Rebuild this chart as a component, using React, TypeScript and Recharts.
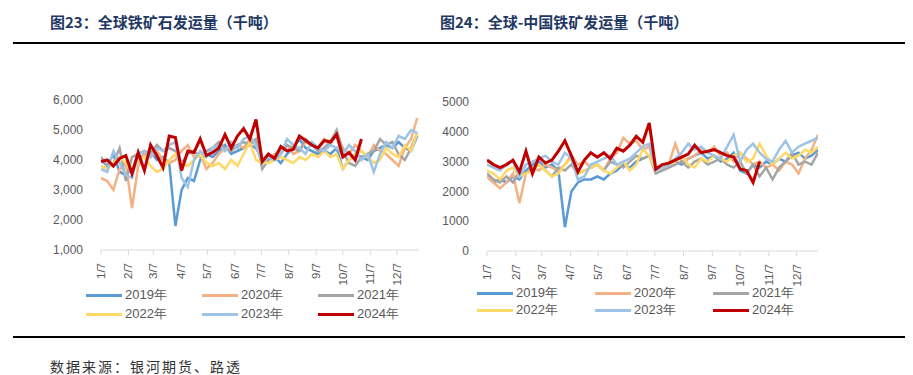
import React from "react";
import { LineChart, Line, XAxis, YAxis } from "recharts";

// weekly observation dates, as day of year (1/7, 1/14, ...)
const weekDays = Array.from({ length: 52 }, (_, i) => 7 + i * 7);

const monthTicks = [7, 38, 66, 97, 127, 158, 188, 219, 250, 280, 311, 341];
const monthLabels = ["1/7", "2/7", "3/7", "4/7", "5/7", "6/7", "7/7", "8/7", "9/7", "10/7", "11/7", "12/7"];

const years = ["2019", "2020", "2021", "2022", "2023", "2024"];
const yearLabels = ["2019年", "2020年", "2021年", "2022年", "2023年", "2024年"];

// 图23 全球铁矿石发运量（千吨）
const global2019 = [4000, 3800, 4200, 3600, 3500, 3700, 4000, 4200, 4300, 4000, 4100, 3900, 1800, 3000, 3400, 3300, 4000, 4200, 4100, 4300, 4500, 4200, 4300, 4400, 4500, 4400, 4000, 4000, 4100, 3900, 4200, 4400, 4700, 4400, 4300, 4200, 4300, 4200, 4400, 3700, 4000, 4200, 4100, 4000, 4300, 4400, 4500, 4400, 4600, 4400, 4300, 4800];
const global2020 = [3400, 3300, 3000, 3700, 3900, 2400, 3800, 4200, 4100, 4300, 4000, 3900, 4000, 4300, 4500, 4100, 4200, 3700, 3900, 4200, 4400, 4300, 4500, 4400, 4700, 4500, 3900, 4000, 4200, 4300, 4500, 4200, 4300, 4600, 4500, 4400, 4700, 4500, 4900, 4400, 4200, 4500, 4300, 4100, 4500, 4300, 4200, 4000, 3800, 4400, 4700, 5400];
const global2021 = [4100, 3800, 3900, 4400, 3300, 4100, 4200, 4300, 4200, 4500, 4300, 4400, 4300, 3900, 4200, 4300, 4100, 4300, 4400, 4600, 4400, 4300, 4500, 4600, 4500, 4700, 3700, 4000, 4100, 4200, 4500, 4400, 4300, 4700, 4500, 4300, 4400, 4600, 5000, 4300, 3900, 3800, 4100, 4200, 4300, 4700, 4500, 4600, 4200, 4000, 4400, 4900];
const global2022 = [3800, 3700, 3900, 4100, 3900, 3700, 4000, 4100, 3800, 3600, 3700, 4000, 4200, 3900, 3800, 4000, 4200, 3900, 3800, 3900, 3700, 4000, 3800, 4200, 4600, 4000, 3900, 3900, 4000, 4100, 4000, 3900, 4100, 4000, 4200, 4100, 4300, 4100, 4200, 3700, 4000, 4200, 4300, 4100, 3900, 4000, 4400, 4200, 4100, 4500, 4300, 4900];
const global2023 = [3700, 3600, 4300, 3900, 3500, 3400, 4200, 4300, 4100, 4400, 4300, 4500, 4600, 3400, 3100, 4000, 4300, 4100, 4400, 4500, 4300, 4600, 4400, 4700, 4800, 4500, 3900, 4100, 4000, 4200, 4700, 4500, 4400, 4200, 4600, 4400, 4300, 4500, 4400, 4200, 4500, 4300, 4000, 4200, 3600, 4200, 4600, 4400, 4800, 4700, 5000, 4900];
const global2024 = [3950, 4000, 3800, 4050, 4150, 3550, 4250, 3650, 4500, 4150, 3750, 4800, 4750, 3650, 4300, 4250, 4700, 4150, 4250, 4400, 4850, 4400, 4800, 5050, 4700, 5350, 3950, 4200, 4050, 4450, 4300, 4350, 4800, 4650, 4500, 4400, 4650, 4600, 4850, 4100, 4250, 4000, 4700];

// 图24 全球-中国铁矿发运量（千吨）
const china2019 = [2500, 2300, 2400, 2300, 2500, 2400, 2700, 2900, 3000, 2800, 2900, 2700, 800, 2000, 2300, 2400, 2400, 2500, 2400, 2600, 2700, 2900, 2800, 3000, 3100, 3200, 2700, 2800, 2900, 3000, 2900, 3100, 3200, 3300, 3100, 3200, 3000, 3100, 3300, 2700, 2600, 2900, 2800, 3000, 2900, 3100, 3000, 3200, 3300, 3100, 3200, 3400];
const china2020 = [2500, 2300, 2100, 2300, 2600, 1600, 2600, 2800, 2700, 2900, 2800, 2700, 2900, 3200, 2900, 3000, 2800, 2900, 2700, 3100, 3300, 3800, 3600, 3700, 3400, 3500, 2700, 2800, 2900, 3600, 3000, 3100, 3200, 3400, 3300, 3500, 3200, 3300, 3000, 3300, 3100, 2900, 3000, 2800, 2900, 2700, 3000, 2900, 2600, 3100, 3400, 3900];
const china2021 = [2600, 2400, 2300, 2500, 2300, 2700, 2600, 2800, 2900, 2700, 2500, 2800, 2700, 2900, 2600, 2700, 2800, 2900, 2700, 3000, 2900, 2800, 3000, 3200, 3100, 3200, 2600, 2700, 2800, 2900, 3000, 2800, 3000, 3100, 2900, 3000, 3100, 2900, 2800, 3000, 2600, 2900, 2500, 2800, 2400, 2800, 3000, 3300, 2900, 3000, 2900, 3300];
const china2022 = [2700, 2600, 2400, 2700, 2800, 2500, 2600, 2700, 2900, 2700, 2500, 2600, 2900, 3100, 2600, 2700, 2800, 2900, 2700, 2600, 2800, 3000, 2700, 2900, 3400, 3200, 2700, 2800, 2900, 3000, 3200, 2900, 2800, 3100, 3000, 3200, 3100, 3000, 3200, 3300, 3000, 3100, 3600, 3200, 2900, 3100, 3300, 3100, 3200, 3400, 3300, 3500];
const china2023 = [2900, 2800, 2700, 2900, 3000, 2500, 2900, 3000, 3100, 3200, 3000, 2900, 3300, 3100, 2400, 2500, 2900, 3000, 3100, 3200, 2900, 3000, 3100, 3300, 3500, 3600, 2700, 2800, 2900, 3100, 3300, 3600, 3400, 3500, 3300, 3200, 3100, 3500, 3900, 3000, 3400, 3600, 3300, 3100, 3000, 3400, 3700, 3300, 3500, 3600, 3700, 3800];
const china2024 = [3050, 2900, 2800, 2900, 3050, 2650, 3350, 2600, 3150, 2950, 3050, 3350, 3700, 3200, 2650, 3050, 3300, 3150, 3300, 3100, 3450, 3350, 3550, 3850, 3650, 4300, 2750, 2900, 2950, 3050, 3150, 3250, 3550, 3300, 3350, 3400, 3300, 3200, 3150, 2750, 2700, 2300, 3000];

const colors = ["#5B9BD5", "#F4B183", "#A5A5A5", "#FFD966", "#9DC3E6", "#C00000"];

const buildRows = (series: number[][]) =>
  weekDays.map((day, i) => {
    const row: Record<string, number | null> = { day };
    years.forEach((y, k) => {
      row["y" + y] = series[k][i] ?? null;
    });
    return row;
  });

const globalRows = buildRows([global2019, global2020, global2021, global2022, global2023, global2024]);
const chinaRows = buildRows([china2019, china2020, china2021, china2022, china2023, china2024]);

const axisFont = "'Liberation Sans', Arial, sans-serif";
const textGrey = "#595959";

const MonthTick = (props: any) => {
  const { x, y, payload } = props;
  const label = monthLabels[monthTicks.indexOf(payload.value)] ?? "";
  const ty = y + 6;
  return (
    <text
      x={x}
      y={ty}
      transform={`rotate(-90, ${x}, ${ty})`}
      textAnchor="end"
      dominantBaseline="central"
      fontSize={11.5}
      fontFamily={axisFont}
      fill={textGrey}
    >
      {label}
    </text>
  );
};

function Panel({
  rows,
  domainY,
  ticksY,
  fmt,
  domainX,
  yWidth,
  margin,
  width,
  height,
}: {
  rows: any[];
  domainY: [number, number];
  ticksY: number[];
  fmt: (v: number) => string;
  domainX: [number, number];
  yWidth: number;
  margin: { top: number; right: number; left: number; bottom: number };
  width: number;
  height: number;
}) {
  return (
    <LineChart width={width} height={height} data={rows} margin={margin}>
      <XAxis
        dataKey="day"
        type="number"
        domain={domainX}
        ticks={monthTicks}
        interval={0}
        tick={<MonthTick />}
        height={40}
        stroke="#D9D9D9"
        tickSize={5}
        allowDataOverflow
      />
      <YAxis
        domain={domainY}
        ticks={ticksY}
        tickFormatter={fmt}
        axisLine={false}
        tickLine={false}
        tickMargin={12}
        width={yWidth}
        tick={{ fontSize: 12, fill: textGrey, fontFamily: axisFont }}
      />
      {years.map((y, k) => (
        <Line
          key={y}
          dataKey={"y" + y}
          type="linear"
          stroke={colors[k]}
          strokeWidth={k === 5 ? 3 : 2.5}
          dot={false}
          connectNulls={false}
          isAnimationActive={false}
        />
      ))}
    </LineChart>
  );
}

function Legend({ left, top, colX, rowGap }: { left: number; top: number; colX: number[]; rowGap: number }) {
  return (
    <>
      {yearLabels.map((label, k) => {
        const row = Math.floor(k / 3);
        const col = k % 3;
        return (
          <div
            key={label}
            style={{
              position: "absolute",
              left: left + colX[col],
              top: top + row * rowGap - 9,
              height: 18,
              display: "flex",
              alignItems: "center",
              fontFamily: axisFont,
              fontSize: 13,
              color: textGrey,
              whiteSpace: "nowrap",
            }}
          >
            <span style={{ display: "inline-block", width: 36, height: 3, background: colors[k], marginRight: 3 }} />
            {label}
          </div>
        );
      })}
    </>
  );
}

const titleStyle: React.CSSProperties = {
  position: "absolute",
  top: 11,
  fontFamily: "'Noto Sans CJK SC', sans-serif",
  fontWeight: 700,
  fontSize: 15,
  color: "#1F3864",
  whiteSpace: "nowrap",
};

export default function App() {
  return (
    <div style={{ position: "absolute", left: 0, top: 0, width: 913, height: 375, background: "#fff", overflow: "hidden" }}>
      <div style={{ ...titleStyle, left: 50 }}>图23：全球铁矿石发运量（千吨）</div>
      <div style={{ ...titleStyle, left: 440 }}>图24：全球-中国铁矿发运量（千吨）</div>
      <div style={{ position: "absolute", left: 13, top: 42, width: 892, height: 2, background: "#000" }} />

      <div style={{ position: "absolute", left: 40, top: 80 }}>
        <Panel
          rows={globalRows}
          domainY={[1000, 6000]}
          ticksY={[1000, 2000, 3000, 4000, 5000, 6000]}
          fmt={(v) => v.toLocaleString("en-US")}
          domainX={[7, 366]}
          yWidth={50}
          margin={{ top: 20, right: 21, left: 11, bottom: 0 }}
          width={400}
          height={210}
        />
      </div>
      <div style={{ position: "absolute", left: 440, top: 80 }}>
        <Panel
          rows={chinaRows}
          domainY={[0, 5000]}
          ticksY={[0, 1000, 2000, 3000, 4000, 5000]}
          fmt={(v) => String(v)}
          domainX={[7, 364]}
          yWidth={40}
          margin={{ top: 22, right: 22, left: 7, bottom: 0 }}
          width={400}
          height={211}
        />
      </div>

      <Legend left={86} top={295} colX={[0, 116, 232]} rowGap={19} />
      <Legend left={477} top={293} colX={[0, 118, 236]} rowGap={17} />

      <div style={{ position: "absolute", left: 13, top: 336, width: 892, height: 2, background: "#000" }} />
      <div
        style={{
          position: "absolute",
          left: 50,
          top: 358,
          fontFamily: "'Noto Sans CJK SC', serif",
          fontSize: 14,
          lineHeight: "16px",
          letterSpacing: 2,
          color: "#333",
          whiteSpace: "nowrap",
        }}
      >
        数据来源：银河期货、路透
      </div>
    </div>
  );
}
